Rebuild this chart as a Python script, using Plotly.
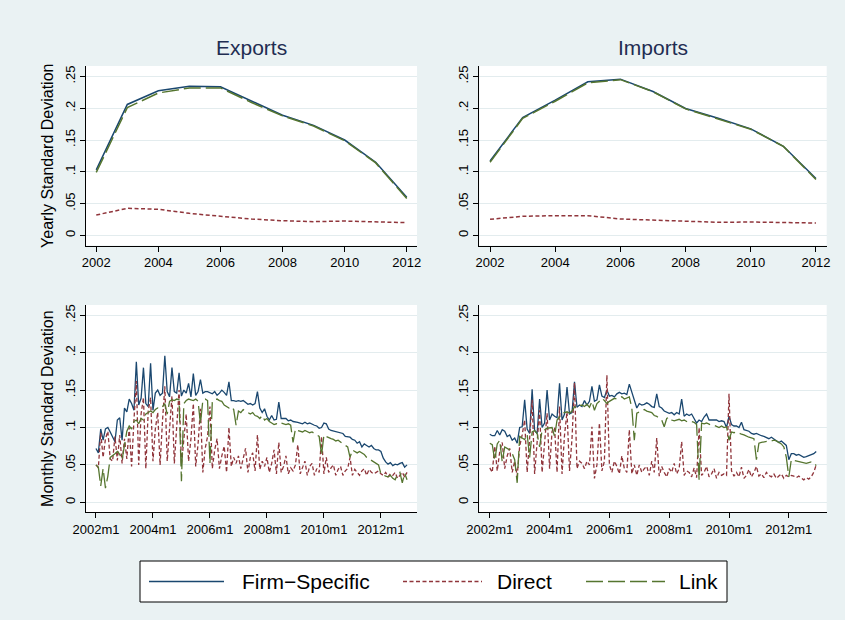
import plotly.graph_objects as go

# ---------------- data ----------------
years = [2002, 2003, 2004, 2005, 2006, 2007, 2008, 2009, 2010, 2011, 2012]

exp_yr_firm = [0.103, 0.206, 0.2275, 0.2348, 0.2338, 0.211, 0.189, 0.173, 0.150, 0.115, 0.060]
exp_yr_direct = [0.032, 0.0425, 0.041, 0.0346, 0.030, 0.0257, 0.023, 0.0215, 0.0225, 0.021, 0.020]
exp_yr_link = [0.099, 0.201, 0.224, 0.232, 0.232, 0.209, 0.188, 0.172, 0.149, 0.114, 0.058]

imp_yr_firm = [0.117, 0.1854, 0.2127, 0.2416, 0.2458, 0.2264, 0.1996, 0.1843, 0.1675, 0.1402, 0.0893]
imp_yr_direct = [0.0252, 0.030, 0.031, 0.031, 0.0257, 0.0236, 0.0215, 0.0205, 0.021, 0.020, 0.0194]
imp_yr_link = [0.115, 0.184, 0.211, 0.240, 0.245, 0.226, 0.199, 0.183, 0.167, 0.140, 0.088]

# monthly series, 2002m1 .. 2012m12 (one row of 12 per year)
exp_mo_firm = [
    .072, .066, .098, .083, .098, .100, .094, .088, .081, .110, .113, .083,
    .126, .121, .138, .132, .123, .188, .130, .139, .180, .132, .128, .186,
    .123, .146, .150, .143, .146, .196, .148, .141, .180, .148, .146, .173,
    .142, .150, .146, .159, .141, .172, .143, .148, .164, .146, .148, .148,
    .146, .145, .148, .143, .146, .150, .147, .143, .161, .136, .136, .135,
    .136, .135, .136, .133, .131, .132, .130, .132, .148, .126, .120, .125,
    .115, .110, .116, .110, .111, .134, .112, .112, .112, .109, .110, .108,
    .108, .107, .106, .105, .107, .105, .106, .104, .103, .102, .099, .100,
    .106, .105, .098, .096, .095, .095, .093, .093, .092, .088, .087, .087,
    .084, .083, .079, .081, .074, .078, .076, .074, .076, .072, .070, .070,
    .068, .059, .054, .051, .053, .049, .051, .050, .052, .053, .047, .050,
]
exp_mo_direct = [
    .050, .046, .093, .060, .085, .095, .058, .055, .088, .056, .090, .052,
    .085, .058, .100, .048, .110, .162, .050, .118, .140, .045, .122, .140,
    .055, .098, .120, .050, .108, .155, .055, .100, .142, .052, .098, .150,
    .050, .090, .118, .055, .085, .132, .048, .078, .125, .040, .072, .088,
    .128, .045, .070, .085, .045, .062, .075, .040, .100, .048, .060, .052,
    .062, .045, .058, .072, .040, .060, .066, .042, .090, .044, .055, .048,
    .060, .040, .052, .070, .038, .080, .040, .048, .062, .038, .046, .042,
    .050, .077, .038, .046, .055, .036, .048, .052, .036, .045, .040, .088,
    .038, .060, .040, .046, .050, .036, .044, .048, .036, .042, .045, .060,
    .036, .044, .040, .036, .042, .045, .036, .044, .040, .038, .040, .042,
    .038, .036, .040, .034, .038, .036, .040, .032, .036, .040, .034, .040,
]
exp_mo_link = [
    .050, .047, .022, .045, .019, .035, .060, .062, .065, .068, .064, .057,
    .075, .095, .102, .098, .108, .110, .105, .112, .110, .118, .120, .122,
    .120, .124, .126, .125, .128, .132, .118, .135, .137, .136, .138, .137,
    .028, .132, .136, .138, .137, .136, .138, .135, .105, .136, .138, .136,
    .052, .135, .137, .138, .136, .135, .130, .128, .126, .128, .124, .103,
    .122, .120, .124, .122, .120, .118, .120, .116, .115, .112, .116, .110,
    .112, .108, .106, .104, .105, .104, .106, .105, .104, .105, .103, .080,
    .098, .096, .095, .094, .096, .095, .093, .094, .092, .090, .088, .063,
    .090, .088, .086, .085, .084, .082, .083, .080, .078, .076, .074, .060,
    .070, .068, .066, .068, .066, .064, .060, .058, .056, .055, .052, .050,
    .038, .036, .035, .034, .036, .032, .030, .038, .040, .026, .039, .030,
]

imp_mo_firm = [
    .091, .089, .089, .096, .090, .097, .095, .088, .090, .083, .086, .079,
    .100, .101, .137, .098, .092, .151, .096, .092, .138, .100, .106, .150,
    .110, .118, .115, .113, .159, .110, .118, .154, .118, .120, .161, .127,
    .130, .128, .136, .130, .135, .155, .135, .137, .157, .142, .140, .150,
    .142, .143, .141, .145, .147, .145, .146, .144, .158, .147, .139, .126,
    .132, .130, .131, .133, .131, .128, .127, .145, .128, .126, .122, .120,
    .119, .120, .117, .120, .118, .138, .115, .118, .116, .118, .112, .106,
    .110, .108, .114, .118, .110, .110, .109, .110, .108, .109, .108, .100,
    .115, .104, .102, .102, .100, .107, .097, .096, .095, .092, .091, .092,
    .090, .089, .088, .086, .085, .087, .085, .083, .080, .082, .079, .076,
    .057, .065, .065, .063, .064, .062, .060, .061, .062, .063, .065, .068,
]
imp_mo_direct = [
    .046, .040, .075, .042, .068, .080, .045, .062, .072, .040, .055, .035,
    .075, .090, .110, .040, .085, .137, .038, .080, .123, .040, .085, .119,
    .045, .095, .100, .040, .128, .038, .090, .121, .042, .085, .160, .045,
    .055, .052, .045, .055, .050, .101, .032, .050, .106, .042, .055, .170,
    .050, .040, .055, .048, .038, .062, .045, .040, .097, .038, .050, .036,
    .050, .040, .045, .048, .036, .055, .040, .086, .035, .048, .040, .034,
    .045, .040, .052, .038, .045, .081, .036, .042, .040, .034, .046, .033,
    .100, .036, .040, .048, .034, .038, .045, .032, .040, .036, .038, .036,
    .145, .042, .035, .040, .034, .047, .032, .036, .044, .034, .040, .048,
    .035, .038, .033, .040, .036, .034, .038, .032, .035, .038, .032, .036,
    .034, .036, .035, .033, .035, .032, .030, .033, .031, .034, .040, .050,
]
imp_mo_link = [
    .079, .077, .056, .078, .083, .054, .074, .072, .070, .065, .057, .026,
    .088, .086, .084, .091, .060, .094, .096, .092, .074, .097, .097, .099,
    .099, .100, .088, .110, .114, .119, .120, .121, .119, .122, .128, .126,
    .129, .130, .128, .131, .127, .135, .123, .132, .135, .139, .136, .132,
    .135, .137, .139, .138, .140, .141, .138, .140, .141, .126, .083, .119,
    .121, .123, .124, .122, .121, .120, .116, .115, .112, .110, .101, .112,
    .114, .110, .109, .110, .111, .109, .110, .108, .107, .108, .107, .104,
    .030, .106, .105, .106, .104, .103, .103, .101, .100, .102, .100, .101,
    .083, .094, .093, .094, .092, .091, .090, .088, .087, .086, .085, .057,
    .079, .080, .081, .081, .082, .082, .083, .082, .080, .078, .074, .060,
    .034, .057, .056, .055, .054, .053, .052, .052, .053, .054, .053, .049,
]

month_ticks = [0, 24, 48, 72, 96, 120]
month_ticktext = ["2002m1", "2004m1", "2006m1", "2008m1", "2010m1", "2012m1"]
y_tickvals = [0, 0.05, 0.1, 0.15, 0.2, 0.25]
y_ticktext = ["0", ".05", ".1", ".15", ".2", ".25"]

# ---------------- style ----------------
NAVY = "#1a476f"
MAROON = "#90353b"
GREEN = "#55752f"
BG = "#eaf2f3"
GRID = "#e3ecee"
FONT = "Liberation Sans, Arial, sans-serif"

W, H = 845, 620

def px_x(a, b):
    return [a / W, b / W]

def px_y(top, bottom):
    return [1 - bottom / H, 1 - top / H]

fig = go.Figure()

series_style = [
    ("Firm−Specific", NAVY, "solid"),
    ("Direct", MAROON, "4px,2.5px"),
    ("Link", GREEN, "17px,5px"),
]

panels = [
    ("x", "y", years, [exp_yr_firm, exp_yr_direct, exp_yr_link], 1.5),
    ("x2", "y2", years, [imp_yr_firm, imp_yr_direct, imp_yr_link], 1.5),
    ("x3", "y3", list(range(len(exp_mo_firm))), [exp_mo_firm, exp_mo_direct, exp_mo_link], 1.3),
    ("x4", "y4", list(range(len(imp_mo_firm))), [imp_mo_firm, imp_mo_direct, imp_mo_link], 1.3),
]

for xa, ya, xs, ys_list, lw in panels:
    for (name, color, dash), ys in zip(series_style, ys_list):
        fig.add_trace(go.Scatter(
            x=xs, y=ys, mode="lines", name=name, showlegend=False,
            line=dict(color=color, width=lw, dash=dash),
            xaxis=xa, yaxis=ya, hoverinfo="skip",
        ))

axis_common = dict(
    showline=True, linecolor="#000000", linewidth=1,
    ticks="outside", ticklen=5, tickcolor="#000000", tickwidth=1,
    tickfont=dict(family=FONT, size=13, color="#000000"),
    zeroline=False, automargin=False,
)

LEFT = (86, 417)
RIGHT = (479.3, 826.7)
TOP = (66, 245.5)
BOTTOM = (305, 512.3)

year_axis = dict(axis_common, showgrid=False, range=[2001.67, 2012.33],
                 tickvals=[2002, 2004, 2006, 2008, 2010, 2012])
month_axis = dict(axis_common, showgrid=False, range=[-4.2, 135.2],
                  tickvals=month_ticks, ticktext=month_ticktext)
y_axis = dict(axis_common, showgrid=True, gridcolor=GRID, gridwidth=1,
              tickvals=y_tickvals, ticktext=y_ticktext, tickangle=-90)

fig.update_layout(
    width=W, height=H,
    margin=dict(l=0, r=0, t=0, b=0),
    paper_bgcolor=BG, plot_bgcolor="#ffffff",
    showlegend=False,
    font=dict(family=FONT, color="#000000"),
    xaxis=dict(year_axis, domain=px_x(*LEFT), anchor="y"),
    yaxis=dict(y_axis, domain=px_y(*TOP), anchor="x", range=[-0.016, 0.2665],
               title=dict(text="Yearly Standard Deviation", font=dict(size=16, family=FONT), standoff=5)),
    xaxis2=dict(year_axis, domain=px_x(*RIGHT), anchor="y2"),
    yaxis2=dict(y_axis, domain=px_y(*TOP), anchor="x2", range=[-0.016, 0.2665]),
    xaxis3=dict(month_axis, domain=px_x(*LEFT), anchor="y3"),
    yaxis3=dict(y_axis, domain=px_y(*BOTTOM), anchor="x3", range=[-0.0134, 0.2638],
                title=dict(text="Monthly Standard Deviation", font=dict(size=16, family=FONT), standoff=5)),
    xaxis4=dict(month_axis, domain=px_x(*RIGHT), anchor="y4"),
    yaxis4=dict(y_axis, domain=px_y(*BOTTOM), anchor="x4", range=[-0.0134, 0.2638]),
)

# panel titles
for text, (a, b) in [("Exports", LEFT), ("Imports", RIGHT)]:
    fig.add_annotation(
        x=(a + b) / 2 / W, y=1 - 48 / H, xref="paper", yref="paper",
        text=text, showarrow=False, xanchor="center", yanchor="middle",
        font=dict(family=FONT, size=21, color="#1f2d52"),
    )

# legend box drawn in pixel positions
LEG_TOP, LEG_BOTTOM = 561, 602
LEG_LEFT, LEG_RIGHT = 140, 727
fig.add_shape(type="rect", xref="paper", yref="paper",
              x0=LEG_LEFT / W, x1=LEG_RIGHT / W,
              y0=1 - LEG_BOTTOM / H, y1=1 - LEG_TOP / H,
              line=dict(color="#000000", width=1), fillcolor="#ffffff", layer="below")

leg_y = 1 - ((LEG_TOP + LEG_BOTTOM) / 2) / H
legend_items = [
    (149, 224, 240),
    (403, 482, 495),
    (586, 665, 677),
]
for (name, color, dash), (l0, l1, tx) in zip(series_style, legend_items):
    fig.add_shape(type="line", xref="paper", yref="paper",
                  x0=l0 / W, x1=l1 / W, y0=leg_y, y1=leg_y,
                  line=dict(color=color, width=1.5, dash=dash))
    fig.add_annotation(x=tx / W, y=leg_y, xref="paper", yref="paper",
                       text=name, showarrow=False, xanchor="left", yanchor="middle",
                       font=dict(family=FONT, size=21, color="#000000"))

fig.write_html("out.html")
